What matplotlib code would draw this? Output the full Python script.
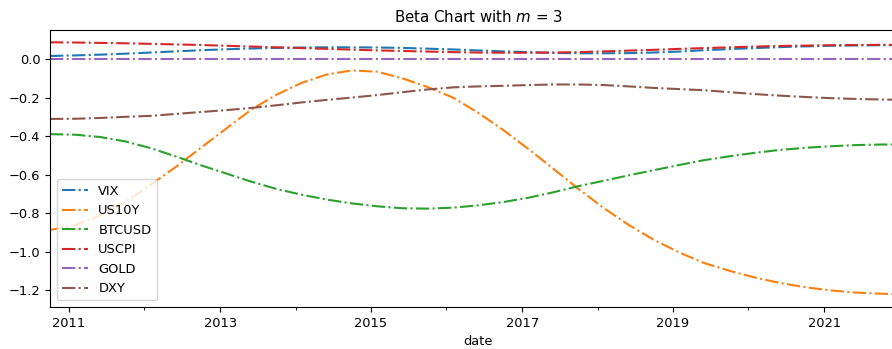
import matplotlib
matplotlib.use("Agg")
import matplotlib.pyplot as plt
import matplotlib.dates as mdates
import matplotlib.ticker as mticker
import pandas as pd

dates = ["2010-10-01", "2011-02-01", "2011-06-01", "2011-10-01", "2012-02-01", "2012-06-01",
         "2012-10-01", "2013-02-01", "2013-06-01", "2013-10-01", "2014-02-01", "2014-06-01",
         "2014-10-01", "2015-02-01", "2015-06-01", "2015-10-01", "2016-02-01", "2016-06-01",
         "2016-10-01", "2017-02-01", "2017-06-01", "2017-10-01", "2018-02-01", "2018-06-01",
         "2018-10-01", "2019-02-01", "2019-06-01", "2019-10-01", "2020-02-01", "2020-06-01",
         "2020-10-01", "2021-02-01", "2021-06-01", "2021-10-01", "2022-02-01"]

vix = [0.016, 0.019, 0.023, 0.028, 0.034, 0.040, 0.046, 0.051, 0.055, 0.058, 0.060, 0.061,
       0.061, 0.060, 0.058, 0.054, 0.050, 0.045, 0.040, 0.036, 0.032, 0.030, 0.030, 0.031,
       0.034, 0.039, 0.046, 0.052, 0.057, 0.062, 0.066, 0.069, 0.071, 0.072, 0.073]

us10y = [-0.888, -0.862, -0.812, -0.742, -0.652, -0.560, -0.460, -0.360, -0.262, -0.185,
         -0.123, -0.080, -0.059, -0.066, -0.100, -0.145, -0.200, -0.278, -0.368, -0.468,
         -0.570, -0.675, -0.775, -0.862, -0.940, -1.005, -1.060, -1.100, -1.135, -1.163,
         -1.185, -1.202, -1.213, -1.219, -1.222]

btcusd = [-0.390, -0.393, -0.405, -0.428, -0.463, -0.506, -0.552, -0.595, -0.637, -0.675,
          -0.705, -0.730, -0.750, -0.765, -0.775, -0.777, -0.772, -0.760, -0.743, -0.720,
          -0.692, -0.660, -0.632, -0.604, -0.577, -0.550, -0.525, -0.505, -0.487, -0.472,
          -0.461, -0.453, -0.447, -0.444, -0.443]

uscpi = [0.087, 0.086, 0.084, 0.082, 0.079, 0.076, 0.073, 0.069, 0.065, 0.061, 0.057, 0.053,
         0.049, 0.045, 0.042, 0.039, 0.036, 0.034, 0.033, 0.033, 0.034, 0.036, 0.040, 0.044,
         0.048, 0.053, 0.057, 0.061, 0.065, 0.068, 0.070, 0.072, 0.073, 0.074, 0.074]

gold = [0.0, 0.0, 0.0, 0.0, 0.0, 0.0, 0.0, 0.0, 0.0, 0.0, 0.0, 0.0,
        0.0, 0.0, 0.0, 0.0, 0.0, 0.0, 0.0, 0.0, 0.0, 0.0, 0.0, 0.0,
        0.0, 0.0, 0.0, 0.0, 0.0, 0.0, 0.0, 0.0, 0.0, 0.0, 0.0]

dxy = [-0.311, -0.310, -0.306, -0.300, -0.295, -0.285, -0.275, -0.265, -0.254, -0.240,
       -0.225, -0.212, -0.200, -0.187, -0.172, -0.158, -0.147, -0.142, -0.139, -0.135,
       -0.132, -0.132, -0.135, -0.142, -0.150, -0.156, -0.162, -0.172, -0.182, -0.190,
       -0.197, -0.203, -0.207, -0.210, -0.212]

series_names = ["VIX", "US10Y", "BTCUSD", "USCPI", "GOLD", "DXY"]
major_years = ["2011", "2013", "2015", "2017", "2019", "2021"]
minor_years = ["2012", "2014", "2016", "2018", "2020", "2022"]

df = pd.DataFrame({"VIX": vix, "US10Y": us10y, "BTCUSD": btcusd,
                   "USCPI": uscpi, "GOLD": gold, "DXY": dxy},
                  index=pd.to_datetime(dates))

fs = 9.4
plt.rcParams["font.size"] = fs
fig = plt.figure(figsize=(8.92, 3.49), dpi=100)
ax = fig.add_axes([50 / 892, 1 - 307 / 349, (906 - 50) / 892, (307 - 30) / 349])

for name in series_names:
    ax.plot(df.index, df[name], linestyle="-.", linewidth=1.5, label=name)

ax.set_xlim(df.index[0], df.index[-1])
ax.set_ylim(-1.288, 0.151)
ax.xaxis.set_major_locator(mticker.FixedLocator(mdates.date2num(pd.to_datetime(major_years))))
ax.xaxis.set_minor_locator(mticker.FixedLocator(mdates.date2num(pd.to_datetime(minor_years))))
ax.xaxis.set_major_formatter(mticker.FixedFormatter(major_years))
ax.tick_params(labelsize=fs)
ax.set_xlabel("date", fontsize=fs)
ax.set_title("Beta Chart with $m$ = 3", fontsize=10.8)
ax.legend(loc="lower left", fontsize=fs)

fig.savefig("out.png", dpi=100)
